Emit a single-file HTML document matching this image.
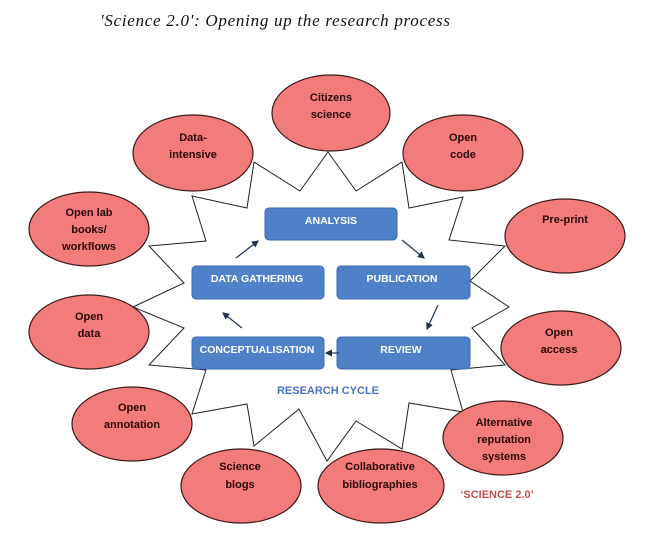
<!DOCTYPE html>
<html><head><meta charset="utf-8"><style>
html,body{margin:0;padding:0;background:#fff;}
svg{display:block;}
.e{fill:#f27b7b;stroke:#3b1a1a;stroke-width:1.2;}
.et{font-family:"Liberation Sans",sans-serif;font-weight:bold;font-size:11px;fill:#2a0808;text-anchor:middle;}
.b{fill:#4f81c9;stroke:#3d6bb0;stroke-width:1;}
.bt{font-family:"Liberation Sans",sans-serif;font-weight:bold;font-size:10.5px;fill:#fff;text-anchor:middle;}
.ar{stroke:#1f3550;stroke-width:1.2;fill:none;marker-end:url(#ah);}
</style></head><body>
<svg width="654" height="541" viewBox="0 0 654 541" xmlns="http://www.w3.org/2000/svg">
<defs><marker id="ah" markerWidth="6" markerHeight="6" refX="5" refY="3" orient="auto"><path d="M0,0 L6,3 L0,6 z" fill="#1f3550"/></marker></defs>
<text x="100" y="26" font-family="Liberation Serif,serif" font-style="italic" font-size="17" textLength="350" fill="#111">'Science 2.0': Opening up the research process</text>
<polygon fill="#fff" stroke="#222" stroke-width="1" points="328,152 356,191 402,162 409,208 463,197 449,240 505,246 470,281 509,307 472,328 505,365 451,370 463,412 409,403 402,449 356,421 327,461 299,409 254,446 247,404 192,414 206,370 149,365 184,328 133,307 184,283 149,246 206,241 192,196 247,208 254,162 300,191"/>
<g>
<ellipse class="e" cx="331" cy="113" rx="59" ry="38"/>
<text class="et" x="331" y="101">Citizens</text><text class="et" x="331" y="118">science</text>
<ellipse class="e" cx="193" cy="153" rx="60" ry="38"/>
<text class="et" x="193" y="141">Data-</text><text class="et" x="193" y="158">intensive</text>
<ellipse class="e" cx="463" cy="153" rx="60" ry="38"/>
<text class="et" x="463" y="141">Open</text><text class="et" x="463" y="158">code</text>
<ellipse class="e" cx="565" cy="236" rx="60" ry="37"/>
<text class="et" x="565" y="223">Pre-print</text>
<ellipse class="e" cx="89" cy="229" rx="60" ry="37"/>
<text class="et" x="89" y="216">Open lab</text><text class="et" x="89" y="233">books/</text><text class="et" x="89" y="250">workflows</text>
<ellipse class="e" cx="89" cy="332" rx="60" ry="37"/>
<text class="et" x="89" y="320">Open</text><text class="et" x="89" y="337">data</text>
<ellipse class="e" cx="561" cy="348" rx="60" ry="37"/>
<text class="et" x="559" y="336">Open</text><text class="et" x="559" y="353">access</text>
<ellipse class="e" cx="132" cy="424" rx="60" ry="37"/>
<text class="et" x="132" y="411">Open</text><text class="et" x="132" y="428">annotation</text>
<ellipse class="e" cx="503" cy="438" rx="60" ry="37"/>
<text class="et" x="504" y="426">Alternative</text><text class="et" x="504" y="443">reputation</text><text class="et" x="504" y="460">systems</text>
<ellipse class="e" cx="241" cy="486" rx="60" ry="37"/>
<text class="et" x="240" y="470">Science</text><text class="et" x="240" y="488">blogs</text>
<ellipse class="e" cx="381" cy="486" rx="63" ry="37"/>
<text class="et" x="380" y="470">Collaborative</text><text class="et" x="380" y="488">bibliographies</text>
</g>
<rect class="b" x="265" y="208" width="132" height="32" rx="4"/>
<text class="bt" x="331" y="224">ANALYSIS</text>
<rect class="b" x="192" y="266" width="132" height="33" rx="4"/>
<text class="bt" x="257" y="282">DATA GATHERING</text>
<rect class="b" x="337" y="266" width="133" height="33" rx="4"/>
<text class="bt" x="402" y="282">PUBLICATION</text>
<rect class="b" x="192" y="337" width="132" height="32" rx="4"/>
<text class="bt" x="257" y="353">CONCEPTUALISATION</text>
<rect class="b" x="337" y="337" width="133" height="32" rx="4"/>
<text class="bt" x="401" y="353">REVIEW</text>
<line class="ar" x1="236" y1="258" x2="258" y2="241"/>
<line class="ar" x1="402" y1="240" x2="424" y2="258"/>
<line class="ar" x1="438" y1="305" x2="427" y2="329"/>
<line class="ar" x1="339" y1="353" x2="326" y2="353"/>
<line class="ar" x1="242" y1="328" x2="223" y2="313"/>
<text x="328" y="394" font-family="Liberation Sans,sans-serif" font-weight="bold" font-size="11" fill="#4a72c4" text-anchor="middle">RESEARCH CYCLE</text>
<text x="497" y="498" font-family="Liberation Sans,sans-serif" font-weight="bold" font-size="11" fill="#c0504d" text-anchor="middle">‘SCIENCE 2.0’</text>
</svg>
</body></html>
